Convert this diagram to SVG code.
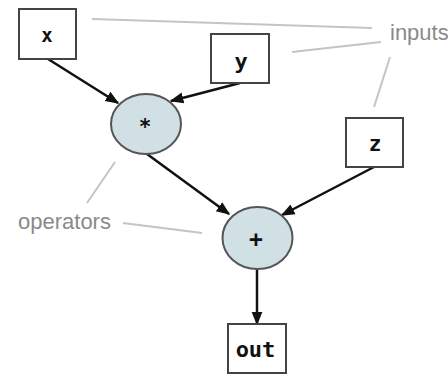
<svg xmlns="http://www.w3.org/2000/svg" width="448" height="374" viewBox="0 0 448 374">
  <defs>
    <style>
      .box { fill: #ffffff; stroke: #444444; stroke-width: 2; }
      .op { fill: #d0e0e4; stroke: #555555; stroke-width: 2; }
      .lbl { font-family: "DejaVu Sans Mono", "Liberation Mono", monospace; font-weight: bold; fill: #111111; text-anchor: middle; }
      .edge { stroke: #111111; stroke-width: 2.5; fill: none; marker-end: url(#arrow); }
      .note { stroke: #c4c4c4; stroke-width: 2; fill: none; }
      .notetext { font-family: "Liberation Sans", Arial, sans-serif; font-size: 22px; fill: #8a8a8a; }
    </style>
    <marker id="arrow" viewBox="0 0 10 10" refX="9" refY="5" markerWidth="5.5" markerHeight="5.5" orient="auto" markerUnits="strokeWidth">
      <path d="M0,1 L10,5 L0,9 z" fill="#111111"/>
    </marker>
  </defs>
  <rect width="448" height="374" fill="#ffffff"/>

  <!-- annotation leader lines -->
  <g id="annotations">
    <line class="note" x1="92" y1="19" x2="372" y2="28"/>
    <line class="note" x1="292" y1="52" x2="381" y2="42"/>
    <line class="note" x1="390" y1="57" x2="374" y2="107"/>
    <line class="note" x1="115" y1="162" x2="87" y2="203"/>
    <line class="note" x1="123" y1="223" x2="202" y2="233"/>
    <text class="notetext" x="390" y="40">inputs</text>
    <text class="notetext" x="18" y="229">operators</text>
  </g>

  <!-- connectors -->
  <g id="connectors">
    <line class="edge" x1="48" y1="59" x2="118" y2="103"/>
    <line class="edge" x1="240" y1="83" x2="171" y2="101"/>
    <line class="edge" x1="147" y1="154" x2="229" y2="214"/>
    <line class="edge" x1="374" y1="167" x2="282" y2="215"/>
    <line class="edge" x1="257" y1="269" x2="257" y2="324"/>
  </g>

  <g id="node-x">
    <rect class="box" x="19" y="9" width="57" height="50"/>
    <text class="lbl" x="47" y="42" font-size="19">x</text>
  </g>
  <g id="node-y">
    <rect class="box" x="211" y="34" width="58" height="49"/>
    <text class="lbl" x="241" y="69" font-size="22">y</text>
  </g>
  <g id="node-z">
    <rect class="box" x="346" y="118" width="57" height="49"/>
    <text class="lbl" x="375" y="151" font-size="21">z</text>
  </g>
  <g id="node-mul">
    <ellipse class="op" cx="146" cy="124" rx="35" ry="30"/>
    <text class="lbl" x="145" y="134" font-size="21">*</text>
  </g>
  <g id="node-add">
    <ellipse class="op" cx="257.5" cy="238" rx="35" ry="31"/>
    <text class="lbl" x="256" y="247" font-size="23">+</text>
  </g>
  <g id="node-out">
    <rect class="box" x="228" y="324" width="58" height="49"/>
    <text class="lbl" x="255.5" y="357" font-size="22">out</text>
  </g>
</svg>
